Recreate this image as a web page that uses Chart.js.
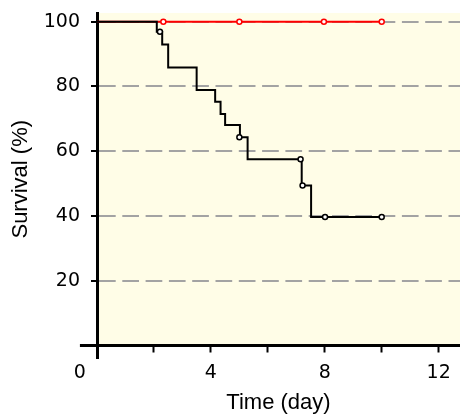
<!DOCTYPE html>
<html>
<head>
<meta charset="utf-8">
<script src="https://cdn.jsdelivr.net/npm/chart.js@4/dist/chart.umd.min.js"></script>
<style>
  html, body { margin: 0; padding: 0; background: #fff; }
  canvas { display: block; }
</style>
</head>
<body>
<canvas id="survivalChart" width="460" height="414"></canvas>
<script>
// treated group: step curve (event times / survival after the drop)
const kmTimes = [0, 2.10, 2.29, 2.50, 3.50, 4.15, 4.34, 4.50, 5.02, 5.29, 7.19, 7.52, 10];
const kmSurvival = [100, 96.9, 93.0, 85.9, 78.9, 75.3, 71.5, 68.1, 64.3, 57.5, 49.4, 39.7, 39.7];
// treated group: censored marks
const kmCensorTimes = [2.21, 5.00, 7.15, 7.22, 8.01, 10.0];
const kmCensorSurvival = [96.9, 64.3, 57.5, 49.4, 39.7, 39.7];
// control group (red)
const ctrlTimes = [0, 10];
const ctrlSurvival = [100, 100];
const ctrlCensorTimes = [2.33, 5.00, 7.97, 10.0];
const ctrlCensorSurvival = [100, 100, 100, 100];

const xTicks = [0, 2, 4, 6, 8, 10, 12];
const xTickLabels = ['0', '', '4', '', '8', '', '12'];
const yTicks = [20, 40, 60, 80, 100];

// axes cross at the origin and stick out a little past it
const xAxisStart = -0.6;
const yAxisStart = -4.2;

const tickFont = { family: 'DejaVu Sans', size: 19 };
const titleFont = { family: 'Liberation Sans', size: 22 };

function toPoints(xs, ys) {
  return xs.map((x, i) => ({ x: x, y: ys[i] }));
}

function alignLine(px) {
  return Math.round(px - 1.5) + 1.5;
}

const plotBackground = {
  id: 'plotBackground',
  beforeDraw(chart) {
    const { ctx, chartArea } = chart;
    ctx.save();
    ctx.fillStyle = '#fffde7';
    ctx.fillRect(chartArea.left, chartArea.top, chartArea.right - chartArea.left, chartArea.bottom - chartArea.top);
    ctx.restore();
  }
};

const axisOverhang = {
  id: 'axisOverhang',
  beforeDatasetsDraw(chart) {
    const { ctx, scales: { x, y } } = chart;
    const x0 = alignLine(x.getPixelForValue(0));
    const y0 = alignLine(y.getPixelForValue(0));
    ctx.save();
    ctx.strokeStyle = '#000';
    ctx.lineWidth = 3;
    ctx.beginPath();
    ctx.moveTo(x.getPixelForValue(xAxisStart), y0);
    ctx.lineTo(x0, y0);
    ctx.moveTo(x0, y0);
    ctx.lineTo(x0, y.getPixelForValue(yAxisStart));
    ctx.stroke();
    ctx.restore();
  }
};

const censorStyle = {
  showLine: false,
  pointRadius: 2.5,
  pointHoverRadius: 2.5,
  pointBorderWidth: 1.5,
  pointBackgroundColor: '#fff'
};

const ctx = document.getElementById('survivalChart').getContext('2d');
const myChart = new Chart(ctx, {
  type: 'line',
  data: {
    datasets: [
      Object.assign({
        data: toPoints(kmCensorTimes, kmCensorSurvival),
        borderColor: '#000',
        pointBorderColor: '#000',
        order: 0
      }, censorStyle),
      {
        data: toPoints(kmTimes, kmSurvival),
        stepped: true,
        borderColor: '#000',
        borderWidth: 2,
        pointRadius: 0,
        order: 1
      },
      Object.assign({
        data: toPoints(ctrlCensorTimes, ctrlCensorSurvival),
        borderColor: '#ff0000',
        pointBorderColor: '#ff0000',
        order: 2
      }, censorStyle),
      {
        data: toPoints(ctrlTimes, ctrlSurvival),
        borderColor: '#ff0000',
        borderWidth: 2,
        pointRadius: 0,
        order: 3
      }
    ]
  },
  options: {
    responsive: false,
    animation: false,
    layout: { autoPadding: false, padding: { left: 0, top: 13, right: 0, bottom: 0 } },
    plugins: {
      legend: { display: false },
      tooltip: { enabled: false }
    },
    scales: {
      x: {
        type: 'linear',
        min: 0,
        max: 12.75,
        afterBuildTicks: s => {
          s.ticks = xTicks.map(v => ({ value: v === 0 ? xAxisStart : v }));
        },
        afterFit: s => {
          s.height = 68.5;
          s.paddingLeft = 0;
          s.paddingRight = 0;
        },
        grid: {
          drawOnChartArea: false,
          tickLength: 7,
          tickWidth: 2,
          tickColor: c => (c.tick && c.tick.value < 0 ? 'rgba(0,0,0,0)' : '#000')
        },
        border: { color: '#000', width: 3 },
        ticks: {
          autoSkip: false,
          maxRotation: 0,
          padding: 9.4,
          color: '#000',
          font: tickFont,
          callback: (v, i) => xTickLabels[i]
        },
        title: {
          display: true,
          text: 'Time (day)',
          color: '#000',
          font: titleFont,
          padding: { top: 0, bottom: -2.3 }
        }
      },
      y: {
        type: 'linear',
        min: 0,
        max: 102.7,
        afterBuildTicks: s => {
          s.ticks = yTicks.map(v => ({ value: v }));
        },
        afterFit: s => {
          s.width = 97;
          s.paddingTop = 0;
          s.paddingBottom = 0;
        },
        grid: {
          color: '#a3a3a3',
          lineWidth: 2,
          tickLength: 6,
          tickWidth: 2,
          tickColor: '#000',
          tickBorderDash: []
        },
        border: { color: '#000', width: 3, dash: [16.7, 6.6] },
        ticks: {
          padding: 11,
          color: '#000',
          font: tickFont,
          callback: v => v
        },
        title: {
          display: true,
          text: 'Survival (%)',
          color: '#000',
          font: titleFont,
          padding: { top: 7.9, bottom: 0 }
        }
      }
    }
  },
  plugins: [plotBackground, axisOverhang]
});
</script>
</body>
</html>
